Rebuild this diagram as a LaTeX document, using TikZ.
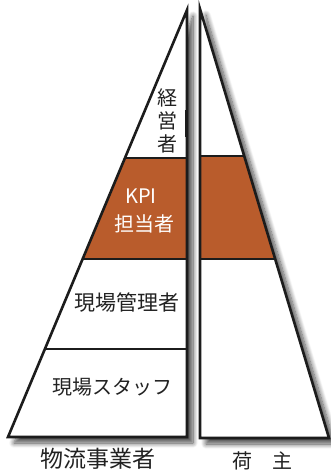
\documentclass[tikz,border=0pt]{standalone}
\usepackage{fontspec}
\newfontfamily\jp{Noto Sans CJK JP}
\usetikzlibrary{shadows.blur}
\definecolor{kpibrown}{HTML}{B95C2C}
\definecolor{edge}{HTML}{1C1C1C}
\definecolor{txt}{HTML}{222222}
\begin{document}
\begin{tikzpicture}[x=1pt,y=-1pt,
  outline/.style={draw=edge,line width=2.6pt,line join=miter},
  divider/.style={draw=edge,line width=2.4pt},
  shadowed/.style={fill=white,blur shadow={shadow xshift=6pt,shadow yshift=-6pt,shadow blur radius=5pt,shadow blur steps=10,shadow opacity=70}},
  lbl/.style={inner sep=0pt,font=\jp\fontsize{20}{23}\selectfont,text=txt},
  wlbl/.style={lbl,text=white}]
\useasboundingbox (0,0) rectangle (331,474);
% left pyramid
\coordinate (la) at (187,10);
\coordinate (lb) at (187,437);
\coordinate (lc) at (8,437);
\coordinate (l1) at (125,158);
\coordinate (l1r) at (187,158);
\coordinate (l2) at (82.6,259);
\coordinate (l2r) at (187,259);
\coordinate (l3) at (44.9,349);
\coordinate (l3r) at (187,349);
% right pyramid
\coordinate (ra) at (200,9);
\coordinate (rb) at (200,438);
\coordinate (rc) at (329,438);
\coordinate (r1) at (244.2,156);
\coordinate (r1l) at (200,156);
\coordinate (r2) at (275.2,259);
\coordinate (r2l) at (200,259);
% backgrounds with shadow
\path[shadowed] (la) -- (lb) -- (lc) -- cycle;
\path[shadowed] (ra) -- (rb) -- (rc) -- cycle;
% brown bands
\fill[kpibrown] (l1) -- (l1r) -- (l2r) -- (l2) -- cycle;
\fill[kpibrown] (r1l) -- (r1) -- (r2) -- (r2l) -- cycle;
% dividers
\draw[divider] (l1) -- (l1r);
\draw[divider] (l2) -- (l2r);
\draw[divider] (l3) -- (l3r);
\draw[divider] (r1l) -- (r1);
\draw[divider] (r2l) -- (r2);
% outlines
\draw[outline] (la) -- (lb) -- (lc) -- cycle;
\draw[outline] (ra) -- (rb) -- (rc) -- cycle;
\coordinate (m1) at (185.5,110);
\coordinate (m2) at (185.5,137);
\draw[edge,line width=2pt] (m1) -- (m2);
% labels
\node[lbl,align=center] (keiei) at (167,121) {経\\営\\者};
\node[wlbl] (kpi) at (141,196) {KPI};
\node[wlbl] (tanto) at (144,224) {担当者};
\node[lbl,font=\jp\fontsize{21}{24}\selectfont] (kanri) at (127,303) {現場管理者};
\node[lbl] (staff) at (112,387) {現場スタッフ};
\node[lbl,font=\jp\fontsize{23}{26}\selectfont] (butsuryu) at (98,459) {物流事業者};
\node[lbl] (ninushi) at (262,461) {荷　主};
\end{tikzpicture}
\end{document}
